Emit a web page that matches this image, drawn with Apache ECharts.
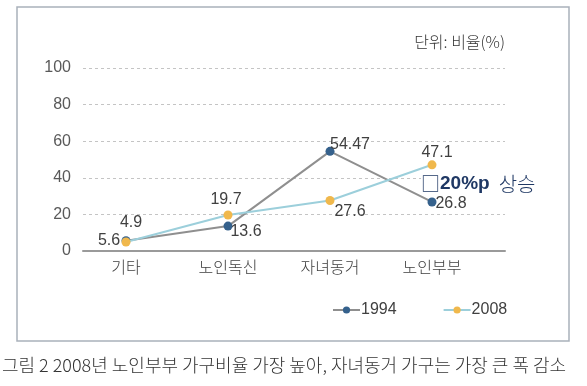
<!DOCTYPE html>
<html>
<head>
<meta charset="utf-8">
<script src="https://cdn.jsdelivr.net/npm/echarts@6/dist/echarts.min.js"></script>
<style>
html,body{margin:0;padding:0;background:#fff;}
#chart{width:587px;height:386px;}
</style>
</head>
<body>
<div id="chart"></div>
<script>
var categories = ['기타', '노인독신', '자녀동거', '노인부부'];
var series1994 = [5.6, 13.6, 54.47, 26.8];
var series2008 = [4.9, 19.7, 27.6, 47.1];
var yTicks = [0, 20, 40, 60, 80, 100];
var seriesNames = ['1994', '2008'];
var unitText = '단위: 비율(%)';
var captionText = '그림 2 2008년 노인부부 가구비율 가장 높아, 자녀동거 가구는 가장 큰 폭 감소';

// label offsets (layout only)
var offsets1994 = [[-17, 0], [18, 5], [20, -7], [19, 2]];
var offsets2008 = [[5, -19], [-2, -15], [20, 11], [5, -12]];

var FONT = '"Liberation Sans", Arial, "Noto Sans CJK KR", sans-serif';
var KFONT = '"Noto Sans CJK KR", "Liberation Sans", sans-serif';

function mkData(vals, offs) {
  return vals.map(function (v, i) {
    return {
      value: v,
      label: { show: true, position: 'inside', offset: offs[i] }
    };
  });
}

var chart = echarts.init(document.getElementById('chart'), null, { renderer: 'canvas' });
chart.setOption({
  animation: false,
  backgroundColor: '#fff',
  grid: [
    { left: 83, right: 82, top: 68, bottom: 135 },
    { left: 75, right: 104, top: 68, bottom: 135 }
  ],
  xAxis: [
    { gridIndex: 0, type: 'category', data: categories, boundaryGap: true,
      axisLine: { lineStyle: { color: '#9a9a9a', width: 2 } },
      axisTick: { show: false }, axisLabel: { show: false } },
    { gridIndex: 1, type: 'category', data: categories, boundaryGap: true,
      axisLine: { show: false }, axisTick: { show: false },
      axisLabel: { color: '#404040', fontSize: 16, fontWeight: 300, fontFamily: KFONT, margin: 8 } }
  ],
  yAxis: [
    { gridIndex: 0, type: 'value', min: yTicks[0], max: yTicks[yTicks.length - 1], interval: 20,
      axisLine: { show: false }, axisTick: { show: false },
      axisLabel: { color: '#595959', fontSize: 16, fontFamily: FONT, margin: 12 },
      splitLine: { lineStyle: { color: '#c4c4c4', type: [3, 3], width: 1 } } },
    { gridIndex: 1, type: 'value', min: yTicks[0], max: yTicks[yTicks.length - 1], interval: 20,
      show: false, splitLine: { show: false } }
  ],
  legend: {
    data: seriesNames,
    left: 327, top: 297,
    itemWidth: 27, itemHeight: 9, itemGap: 46,
    textStyle: { color: '#404040', fontSize: 16, fontFamily: FONT, padding: [0, 0, 0, -4] }
  },
  series: [
    { name: seriesNames[0], type: 'line', xAxisIndex: 1, yAxisIndex: 1,
      data: mkData(series1994, offsets1994),
      symbol: 'circle', symbolSize: 9,
      lineStyle: { color: '#8f8f8f', width: 2 },
      itemStyle: { color: '#35618c' },
      label: { color: '#404040', fontSize: 16, fontFamily: FONT },
      z: 2 },
    { name: seriesNames[1], type: 'line', xAxisIndex: 1, yAxisIndex: 1,
      data: mkData(series2008, offsets2008),
      symbol: 'circle', symbolSize: 9,
      lineStyle: { color: '#9ccfdb', width: 2 },
      itemStyle: { color: '#f0b84c' },
      label: { color: '#404040', fontSize: 16, fontFamily: FONT },
      z: 3 }
  ],
  graphic: [
    { type: 'rect', shape: { x: 17, y: 7, width: 552, height: 334 },
      style: { fill: 'none', stroke: '#a9b1bb', lineWidth: 1.5 }, z: -1 },
    { type: 'text', right: 82, top: 34,
      style: { text: unitText, fill: '#333', font: '300 16px ' + KFONT } },
    { type: 'text', left: 421, top: 174, z: 10,
      style: {
        text: '{a|□}{b|20%p}{c|상승}',
        backgroundColor: '#fff',
        rich: {
          a: { fontSize: 19, fill: '#1f3864', fontFamily: KFONT },
          b: { fontSize: 19, fontWeight: 'bold', fill: '#1f3864', fontFamily: FONT },
          c: { fontSize: 20, fontWeight: 300, fill: '#1f3864', fontFamily: KFONT, padding: [0, 0, 0, 9] }
        }
      } },
    { type: 'text', left: 2, top: 356,
      style: { text: captionText, fill: '#333', font: '300 18px ' + KFONT } }
  ]
});
</script>
</body>
</html>
